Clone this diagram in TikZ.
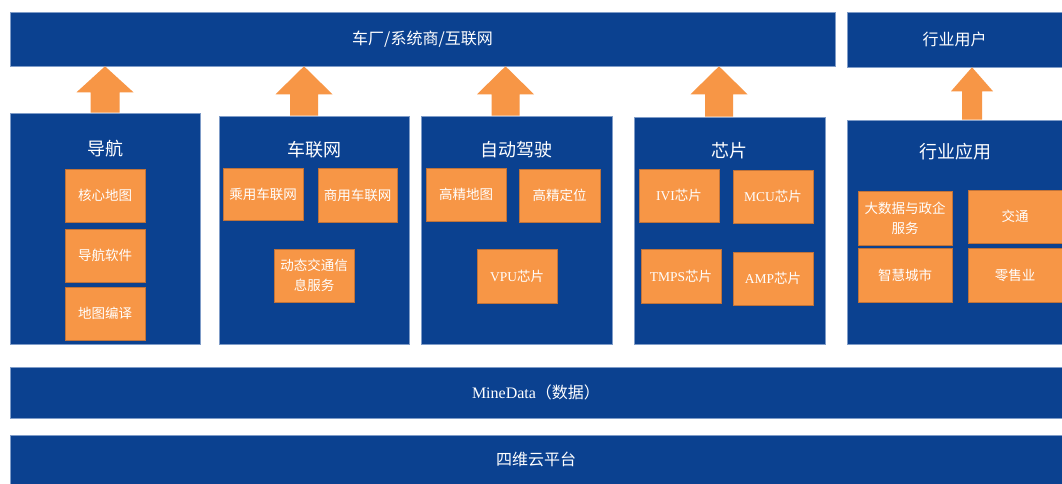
\documentclass[tikz,border=0pt]{standalone}
\usepackage{fontspec}
\setmainfont{Liberation Serif}
\newfontfamily\cjk{Noto Sans CJK SC}
\newfontfamily\lat{Liberation Serif}
\usetikzlibrary{fit,calc}
\definecolor{dblue}{HTML}{0B4190}
\definecolor{orng}{HTML}{F79646}
\definecolor{bedge}{HTML}{7F9CC8}
\definecolor{oedge}{HTML}{C0733A}
\tikzset{
  bar/.style={fill=dblue, draw=bedge, line width=0.6pt, inner sep=0pt},
  bartext/.style={text=white, inner sep=0pt, font=\cjk\fontsize{16}{18}\selectfont},
  panel/.style={fill=dblue, draw=bedge, line width=0.6pt, inner sep=0pt},
  ptitle/.style={text=white, font=\cjk\fontsize{18}{20}\selectfont, inner sep=0pt},
  sub/.style={fill=orng, draw=oedge, line width=0.5pt, inner sep=0pt},
  subtext/.style={text=white, align=center, inner sep=0pt, font=\cjk\fontsize{13.5}{20}\selectfont},
}
% #1 box style, #2 name, #3 corner, #4 corner, #5 text style, #6 text
\newcommand\mkbox[6]{\node[#1, fit={(#3)(#4)}] (#2) {};
  \node[#5] (#2-t) at (#2.center) {#6};}
% #1 x centre, #2 upper node, #3 lower node, #4 head half width, #5 shaft half width, #6 head height
\newcommand\uarrow[6]{\fill[orng] let \p1=(#2.south), \p2=(#3.north) in
  (#1pt,\y1) -- (#1pt+#4pt,\y1-#6pt) -- (#1pt+#5pt,\y1-#6pt) -- (#1pt+#5pt,\y2) --
  (#1pt-#5pt,\y2) -- (#1pt-#5pt,\y1-#6pt) -- (#1pt-#4pt,\y1-#6pt) -- cycle;}
\begin{document}
\begin{tikzpicture}[x=1pt,y=-1pt]
\useasboundingbox[fill=white] (0,0) rectangle (1062,484);

% top bars
\mkbox{bar}{top}{10,12}{835,66}{bartext}{车厂/系统商/互联网}
\mkbox{bar}{user}{847,12}{1062,67}{bartext}{行业用户}

% panels
\node[panel, fit={(10,113)(200,344)}] (nav) {};
\node[panel, fit={(219,116)(409,344)}] (tel) {};
\node[panel, fit={(421,116)(612,344)}] (ad) {};
\node[panel, fit={(634,117)(825,344)}] (chip) {};
\node[panel, fit={(847,120)(1062,344)}] (ind) {};

% panel titles
\node[ptitle] (tnav) at (105,149) {导航};
\node[ptitle] (ttel) at (314,150) {车联网};
\node[ptitle] (tad) at (516,150) {自动驾驶};
\node[ptitle] (tchip) at (729,151) {芯片};
\node[ptitle] (tind) at (955,152) {行业应用};

% sub boxes
\mkbox{sub}{n1}{65,169}{145,222}{subtext}{核心地图}
\mkbox{sub}{n2}{65,229}{145,282}{subtext}{导航软件}
\mkbox{sub}{n3}{65,287}{145,340}{subtext}{地图编译}

\mkbox{sub}{c1}{223,168}{303,220}{subtext}{乘用车联网}
\mkbox{sub}{c2}{318,168}{397,222}{subtext}{商用车联网}
\mkbox{sub}{c3}{274,249}{354,302}{subtext}{动态交通信\\息服务}

\mkbox{sub}{a1}{426,168}{506,221}{subtext}{高精地图}
\mkbox{sub}{a2}{519,169}{600,222}{subtext}{高精定位}
\mkbox{sub}{a3}{477,249}{557,303}{subtext}{{\lat VPU}芯片}

\mkbox{sub}{s1}{639,169}{719,222}{subtext}{{\lat IVI}芯片}
\mkbox{sub}{s2}{733,170}{813,223}{subtext}{{\lat MCU}芯片}
\mkbox{sub}{s3}{641,249}{721,303}{subtext}{{\lat TMPS}芯片}
\mkbox{sub}{s4}{733,252}{813,305}{subtext}{{\lat AMP}芯片}

\mkbox{sub}{i1}{858,191}{952,245}{subtext}{大数据与政企\\服务}
\mkbox{sub}{i2}{968,190}{1062,243}{subtext}{交通}
\mkbox{sub}{i3}{858,248}{952,302}{subtext}{智慧城市}
\mkbox{sub}{i4}{968,248}{1062,302}{subtext}{零售业}

% bottom bars
\mkbox{bar}{data}{10,367}{1062,418}{bartext}{{\lat MineData}（数据）}
\mkbox{bar}{cloud}{10,435}{1062,484}{bartext}{四维云平台}

% block arrows
\uarrow{105}{top}{nav}{28.5}{14.5}{26}
\uarrow{304}{top}{tel}{28.5}{14}{28}
\uarrow{505.5}{top}{ad}{28.5}{14}{28}
\uarrow{719}{top}{chip}{28.5}{14}{28}
\uarrow{972}{user}{ind}{21}{10}{24}
\end{tikzpicture}
\end{document}
